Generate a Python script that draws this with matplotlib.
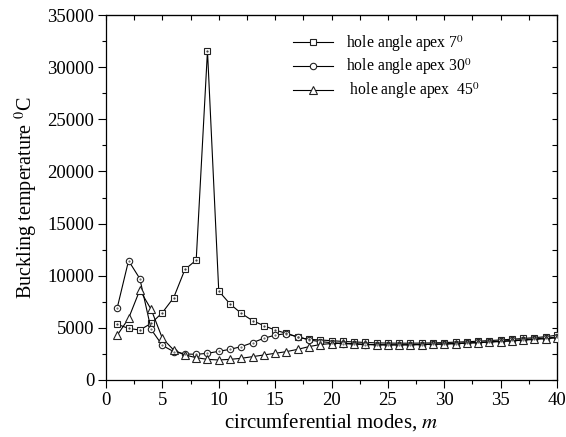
import matplotlib
matplotlib.use("Agg")
import matplotlib.pyplot as plt
import numpy as np

plt.rcParams['font.family'] = ['Liberation Serif', 'DejaVu Serif']
plt.rcParams['mathtext.fontset'] = 'stix'

modes = list(range(1, 41))

apex7 = [5340, 4950, 4790, 5430, 6460, 7890, 10600, 11500, 31580, 8530,
         7290, 6390, 5690, 5210, 4790, 4470, 4100, 3900, 3840, 3770,
         3700, 3650, 3600, 3560, 3540, 3530, 3530, 3540, 3560, 3590,
         3630, 3670, 3720, 3780, 3840, 3910, 3980, 4060, 4150, 4300]
apex30 = [6940, 11440, 9720, 4860, 3320, 2720, 2500, 2460, 2560, 2750,
          2940, 3200, 3580, 4000, 4300, 4450, 4150, 3840, 3680, 3580,
          3500, 3440, 3400, 3380, 3370, 3370, 3380, 3400, 3430, 3460,
          3500, 3550, 3600, 3660, 3720, 3790, 3860, 3940, 4020, 4110]
apex45 = [4300, 5900, 8630, 6780, 4000, 2880, 2400, 2140, 1980, 1920,
          1980, 2080, 2240, 2400, 2560, 2720, 2940, 3200, 3400, 3500,
          3520, 3480, 3420, 3380, 3370, 3370, 3380, 3400, 3420, 3450,
          3490, 3530, 3580, 3630, 3690, 3750, 3820, 3890, 3960, 4040]

labels = ['hole angle apex 7$^0$', 'hole angle apex 30$^0$', ' hole angle apex  45$^0$']

fig = plt.figure(figsize=(5.66, 4.37), dpi=100)
ax = fig.add_axes([106/566, 1-380/437, (557-106)/566, (380-15)/437])

lw = 0.8
ec = '#222222'
ax.plot(modes, apex7, '-', color='black', lw=lw, marker='s', ms=4.3,
        mfc='white', mec=ec, mew=0.8, label=labels[0], zorder=3)
ax.plot(modes, apex7, ls='none', marker='.', ms=1.2, color='#333333', zorder=4)
ax.plot(modes, apex30, '-', color='black', lw=lw, marker='o', ms=4.6,
        mfc='white', mec=ec, mew=0.8, label=labels[1], zorder=3)
ax.plot(modes, apex30, ls='none', marker='.', ms=1.0, color='#555555', zorder=4)
ax.plot(modes, apex45, '-', color='black', lw=lw, marker='^', ms=5.2,
        mfc='white', mec=ec, mew=0.8, label=labels[2], zorder=3)

ax.set_xlim(0, 40)
ax.set_ylim(0, 35000)
ax.set_xticks(np.arange(0, 41, 5))
ax.set_xticks(np.arange(0, 41, 2.5), minor=True)
ax.set_yticks(np.arange(0, 35001, 5000))
ax.set_yticks(np.arange(0, 35001, 2500), minor=True)
ax.tick_params(axis='both', which='major', direction='out', length=6, width=0.8,
               labelsize=13.5, pad=2.5, top=False, right=False)
ax.tick_params(axis='both', which='minor', direction='out', length=3, width=0.8,
               top=False, right=False)
for s in ax.spines.values():
    s.set_linewidth(0.9)

secx = ax.secondary_xaxis('top')
secx.set_xticks(np.arange(0, 41, 5))
secx.set_xticks(np.arange(0, 41, 2.5), minor=True)
secx.tick_params(which='both', direction='in', length=3.5, width=0.8, labeltop=False)
secy = ax.secondary_yaxis('right')
secy.set_yticks(np.arange(0, 35001, 5000))
secy.set_yticks(np.arange(0, 35001, 2500), minor=True)
secy.tick_params(which='both', direction='in', length=3.5, width=0.8, labelright=False)

ax.set_xlabel('circumferential modes, $m$', fontsize=15, labelpad=2)
ax.set_ylabel('Buckling temperature $^0$C', fontsize=14.5, labelpad=5)

leg = ax.legend(loc='upper left', bbox_to_anchor=(293/566, 1-33/437),
                bbox_transform=fig.transFigure, frameon=False, fontsize=11.3,
                handlelength=2.55, handletextpad=0.8, labelspacing=0.2,
                borderaxespad=0, borderpad=0)

fig.savefig('out.png', dpi=100)
